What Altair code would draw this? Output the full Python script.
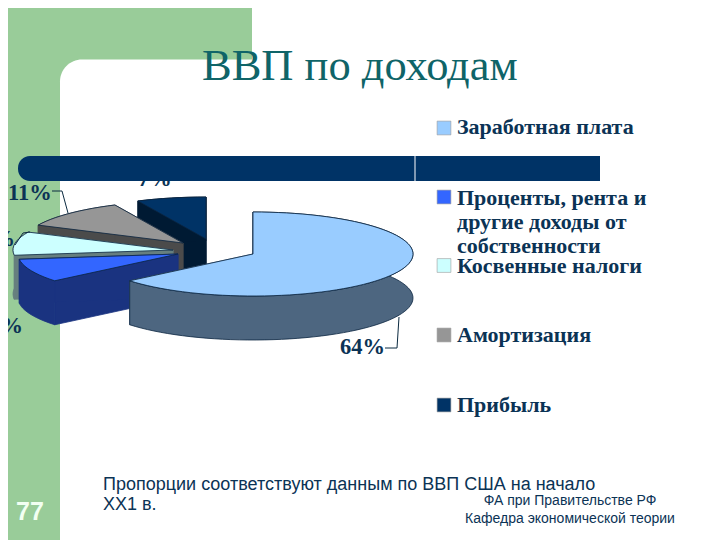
import math
import pandas as pd
import altair as alt

# ---- values ----
categories = ["Заработная плата", "Проценты, рента и другие доходы от собственности",
              "Косвенные налоги", "Амортизация", "Прибыль"]
shares = [64, 9, 9, 11, 7]
title_text = "ВВП по доходам"
note_lines = ["Пропорции соответствуют данным по ВВП США  на начало", "ХХ1 в."]
credit_lines = ["ФА при Правительстве РФ", "Кафедра экономической теории"]
page_number = "77"

# ---- layout / style ----
W, H = 704, 532
OX, OY = 8, 8
top_col = ["#99ccff", "#3366ff", "#ccffff", "#969696", "#003366"]
wall_col = ["#4d6680", "#1a3380", "#667f7f", "#4b4b4b", "#001a33"]
wall_line = ["#0a2540", "#1a3380", "#667f7f", "#4b4b4b", "#001a33"]
centers = [(253, 254), (178, 254), (173, 250), (183, 243), (206, 239)]
RX, RY, DEPTH = 160, 42, 44
TEXT = "#0b3355"

xs = alt.Scale(domain=[OX, OX + W], range=[0, W])
ys = alt.Scale(domain=[OY + H, OY], range=[H, 0])
X = alt.X("x:Q", scale=xs, axis=None)
Y = alt.Y("y:Q", scale=ys, axis=None)


def rect(x, x2, y, y2, color, **kw):
    df = pd.DataFrame({"x": [x], "x2": [x2], "y": [y], "y2": [y2]})
    return alt.Chart(df).mark_rect(color=color, **kw).encode(
        x=X, x2="x2:Q", y=Y, y2="y2:Q")


def poly(points, fill, stroke):
    df = pd.DataFrame({"x": [p[0] for p in points], "y": [p[1] for p in points],
                       "i": list(range(len(points)))})
    return alt.Chart(df).mark_line(interpolate="linear-closed", fill=fill, stroke=stroke,
                                   strokeWidth=0.8, strokeJoin="round").encode(
        x=X, y=Y, order="i:Q")


def line(points, color="#0b2a40", width=1):
    df = pd.DataFrame({"x": [p[0] for p in points], "y": [p[1] for p in points],
                       "i": list(range(len(points)))})
    return alt.Chart(df).mark_line(color=color, strokeWidth=width).encode(x=X, y=Y, order="i:Q")


def text(s, x, y, size, color=TEXT, font="Liberation Serif", weight="normal", align="left"):
    df = pd.DataFrame({"x": [x], "y": [y], "t": [s]})
    return alt.Chart(df).mark_text(font=font, fontSize=size, fontWeight=weight, color=color,
                                   align=align, baseline="alphabetic").encode(x=X, y=Y, text="t:N")


def rim(c, a0, a1):
    n = max(2, int(abs(a1 - a0) / 3))
    out = []
    for k in range(n + 1):
        t = math.radians(a0 + (a1 - a0) * k / n)
        out.append((c[0] + RX * math.sin(t), c[1] - RY * math.cos(t)))
    return out


def down(pts):
    return [(p[0], p[1] + DEPTH) for p in pts]


# wedge angles come from the shares
angles = []
acc = 0
for s in shares:
    angles.append((acc * 3.6, (acc + s) * 3.6))
    acc += s

layers = []
# slide background
layers += [rect(0, 60, 0, 540, "#99cc99"), rect(0, 252, 0, 60, "#99cc99"),
           rect(60, 90, 60, 90, "#99cc99"),
           rect(60, 720, 59.5, 540, "#ffffff", cornerRadiusTopLeft=22)]

# wedges: back ones first, main one last
for i in [4, 3, 2, 1, 0]:
    c = centers[i]
    a0, a1 = angles[i]
    r = rim(c, a0, a1)
    cd = (c[0], c[1] + DEPTH)
    layers.append(poly([c, r[0], (r[0][0], r[0][1] + DEPTH), cd], wall_col[i], wall_col[i]))
    layers.append(poly([c, r[-1], (r[-1][0], r[-1][1] + DEPTH), cd], wall_col[i], wall_col[i]))
    layers.append(poly(r + down(r)[::-1], wall_col[i], wall_line[i]))
    layers.append(poly([c] + r, top_col[i], "#0a2540"))

# percent labels and leaders
LAB = 22.5
layers += [
    text(f"{shares[3]}%", 8, 200, LAB, weight="bold"),
    text(f"{shares[4]}%", 138, 186, LAB, weight="bold"),
    text(f"{shares[2]}%", 15, 246, LAB, weight="bold", align="right"),
    text(f"{shares[1]}%", 23, 333, LAB, weight="bold", align="right"),
    text(f"{shares[0]}%", 340, 354, LAB, weight="bold"),
    line([(52, 191), (62, 191), (68, 213)]),
    line([(15, 245), (23, 233), (30, 232)]),
    line([(385, 348), (397, 348), (399, 317)]),
]

# dark band over the chart
layers += [rect(18, 600, 156, 181, "#003366", cornerRadiusTopLeft=12, cornerRadiusBottomLeft=12),
           line([(415, 156), (415, 181)], "#ffffff", 1)]

# legend
legend_y = [128, 197, 265.5, 335, 405]
legend_df = pd.DataFrame({"x": [444] * 5, "y": legend_y, "c": categories})
layers.append(alt.Chart(legend_df).mark_square(size=190, opacity=1, stroke="#9a9a9a", strokeWidth=0.6).encode(
    x=X, y=Y,
    fill=alt.Fill("c:N", scale=alt.Scale(domain=categories, range=top_col), legend=None)))
legend_lines = [("Заработная плата", 134), ("Проценты, рента и", 205), ("другие доходы от", 229),
                ("собственности", 253), ("Косвенные налоги", 273), ("Амортизация", 342), ("Прибыль", 412)]
for s, y in legend_lines:
    layers.append(text(s, 457, y, 22, weight="bold"))

# title, notes
layers += [
    text(title_text, 202, 80, 44.5, color="#0f6468"),
    text(note_lines[0], 103, 490, 18, font="Liberation Sans"),
    text(note_lines[1], 103, 510, 18, font="Liberation Sans"),
    text(credit_lines[0], 570, 505, 14, font="Liberation Sans", align="center"),
    text(credit_lines[1], 570, 523, 14, font="Liberation Sans", align="center"),
    text(page_number, 30, 520, 25, color="#f2fff2", font="Liberation Sans", weight="bold", align="center"),
]

chart = alt.layer(*layers).properties(width=W, height=H, padding=0, autosize="none",
                                      background="#ffffff").configure_view(stroke=None)
chart.save("out.html", embed_options={"renderer": "svg", "actions": False})
